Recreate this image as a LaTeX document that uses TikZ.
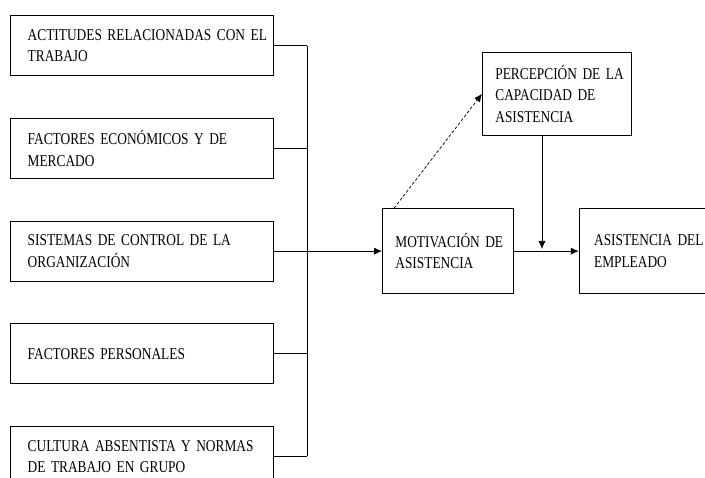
\documentclass[tikz,border=0pt]{standalone}
\usepackage{fontspec}
\setmainfont{Liberation Serif}[FakeStretch = 0.81]
\usetikzlibrary{arrows.meta, matrix, positioning}

\begin{document}
\begin{tikzpicture}[x = 1pt, y = -1pt, line width = 0.7pt, >={Latex[length = 8pt, width = 7pt]},
    caja/.style = {draw, inner xsep = 0pt, align = left, font = \fontsize{16.5}{21.5}\selectfont},
    sangria/.style = {execute at begin node = {\leftskip=#1\rightskip=-20pt plus 1fil}}]
  \useasboundingbox (0,0) rectangle (705,478);
  \matrix (m) [matrix of nodes, anchor = north west, inner sep = 0pt, row sep = 42pt,
               nodes = {caja, sangria = 17pt, text width = 263pt, minimum height = 60pt}] at (10,15)
  {
    {ACTITUDES RELACIONADAS CON EL\\TRABAJO} \\
    {FACTORES ECONÓMICOS Y DE\\MERCADO} \\
    {SISTEMAS DE CONTROL DE LA\\ORGANIZACIÓN} \\
    {FACTORES PERSONALES} \\
    {CULTURA ABSENTISTA Y NORMAS\\DE TRABAJO EN GRUPO} \\
  };
  \node[caja, sangria = 13pt, text width = 131pt, minimum height = 85pt, right = 108pt of m-3-1] (mot) {MOTIVACIÓN DE\\ASISTENCIA};
  \node[caja, sangria = 15pt, text width = 150pt, minimum height = 85pt, right = 65pt of mot] (asis) {ASISTENCIA DEL\\EMPLEADO};
  \node[caja, sangria = 13pt, text width = 149pt, minimum height = 83pt, anchor = north west] (perc) at (482,52) {PERCEPCIÓN DE LA\\CAPACIDAD DE\\ASISTENCIA};
  \coordinate (bus) at (307,0);
  \coordinate (cruce) at (542,249);
  \path (m-1-1) edge (m-1-1 -| bus)
        (m-2-1) edge (m-2-1 -| bus)
        (m-4-1) edge (m-4-1 -| bus)
        (m-5-1) edge (m-5-1 -| bus)
        (m-1-1 -| bus) edge (m-5-1 -| bus);
  \path[->] (m-3-1) edge (mot)
            (mot) edge (asis)
            (perc.south -| cruce) edge (cruce);
  \path[->, dash pattern = on 3pt off 2pt] ([xshift = 12pt]mot.north west) edge (perc.west);
\end{tikzpicture}
\end{document}
